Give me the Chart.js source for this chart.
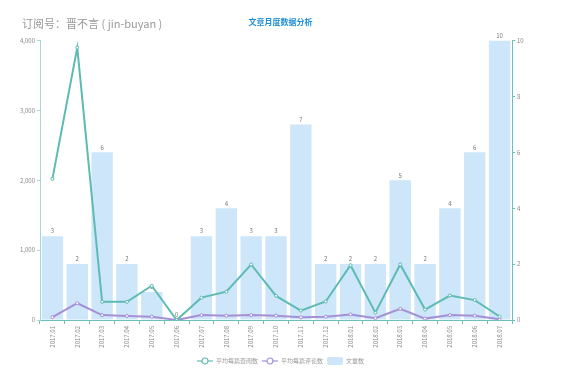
<!DOCTYPE html>
<html><head><meta charset="utf-8">
<script src="https://cdn.jsdelivr.net/npm/chart.js@4/dist/chart.umd.min.js"></script>
<style>html,body{margin:0;padding:0;background:#fff}#w{width:561px;height:385px}</style>
</head><body><div id="w"><canvas id="c"></canvas></div>
<script>
const months = ['2017.01','2017.02','2017.03','2017.04','2017.05','2017.06','2017.07','2017.08','2017.09','2017.10','2017.11','2017.12','2018.01','2018.02','2018.03','2018.04','2018.05','2018.06','2018.07'];
const avgReads = [2020,3900,260,260,490,0,320,405,795,345,135,265,785,105,795,150,350,285,50];
const avgComments = [40,240,70,58,48,0,70,62,70,62,38,48,80,25,160,20,70,62,10];
const articleCount = [3,2,6,2,1,0,3,4,3,3,7,2,2,2,5,2,4,6,10];
const leftTicks = [0,1000,2000,3000,4000];
const rightTicks = [0,2,4,6,8,10];
const titleText = '文章月度数据分析';
const subText = '订阅号：晋不言 ( jin-buyan )';
const FONT = "'Noto Sans CJK SC','Noto Sans',sans-serif";

function lineIcon(color){
  const c=document.createElement('canvas'); c.width=16; c.height=8;
  const g=c.getContext('2d');
  g.strokeStyle=color; g.lineWidth=1.2;
  g.beginPath(); g.moveTo(0,4); g.lineTo(16,4); g.stroke();
  g.fillStyle='#fff'; g.beginPath(); g.arc(8,4,3,0,Math.PI*2); g.fill(); g.stroke();
  return c;
}
function rectIcon(color){
  const c=document.createElement('canvas'); c.width=16; c.height=8;
  const g=c.getContext('2d'); g.fillStyle=color;
  g.beginPath(); g.roundRect(0,0,16,8,2); g.fill();
  return c;
}

const barLabels = {
  id:'barLabels',
  afterDatasetDraw(chart,args){
    if(args.index!==2) return;
    const ctx=chart.ctx, meta=args.meta;
    ctx.save();
    ctx.font="6px "+FONT; ctx.fillStyle='#777'; ctx.textAlign='center'; ctx.textBaseline='bottom';
    meta.data.forEach((b,i)=>ctx.fillText(String(articleCount[i]), b.x, b.y-2));
    ctx.restore();
  }
};
const subTitle = {
  id:'subTitle',
  afterDraw(chart){
    const ctx=chart.ctx; ctx.save();
    ctx.font="11px "+FONT; ctx.fillStyle='#999'; ctx.textBaseline='middle'; ctx.textAlign='left';
    ctx.fillText(subText, 22, 24);
    ctx.restore();
  }
};
const icons=[lineIcon('#5dbbb3'), lineIcon('#a58fd6'), rectIcon('#cde6f9')];

new Chart(document.getElementById('c'), {
  data:{
    labels: months,
    datasets:[
      {type:'line', label:'平均每篇查阅数', data:avgReads, yAxisID:'y', borderColor:'#5dbbb3', backgroundColor:'#fff', borderWidth:2, pointRadius:1.5, pointBorderWidth:1, pointStyle:'circle', tension:0, order:1},
      {type:'line', label:'平均每篇评论数', data:avgComments, yAxisID:'y', borderColor:'#a58fd6', backgroundColor:'#fff', borderWidth:2, pointRadius:1.5, pointBorderWidth:1, pointStyle:'circle', tension:0, order:2},
      {type:'bar', label:'文章数', data:articleCount, yAxisID:'y1', backgroundColor:'#cde6f9', borderWidth:0, barPercentage:0.86, categoryPercentage:1, order:3}
    ]
  },
  options:{
    responsive:true, maintainAspectRatio:false, animation:false,
    layout:{padding:{left:0,right:0,top:0,bottom:11}},
    plugins:{
      title:{display:true, text:titleText, color:'#1e8fd6', font:{family:FONT,size:8,weight:'bold'}, padding:{top:17,bottom:14}},
      legend:{position:'bottom', labels:{usePointStyle:true, pointStyleWidth:16, boxHeight:8, font:{family:FONT,size:6}, color:'#999', padding:4,
        generateLabels(chart){
          return chart.data.datasets.map((d,i)=>({text:d.label, pointStyle:icons[i], fontColor:'#999', datasetIndex:i, hidden:false, lineWidth:0, strokeStyle:'rgba(0,0,0,0)', fillStyle:'rgba(0,0,0,0)'}));
        }}},
      tooltip:{enabled:false}
    },
    scales:{
      x:{offset:true, grid:{display:true, drawOnChartArea:false, offset:true, tickLength:4, color:'#6cc0bb'}, border:{color:'#6cc0bb'},
         ticks:{color:'#888', font:{family:FONT,size:6}, maxRotation:90, minRotation:90, padding:2, autoSkip:false},
         afterFit(s){s.height=34;}},
      y:{position:'left', min:0, max:4000, afterBuildTicks(s){s.ticks=leftTicks.map(v=>({value:v}));},
         grid:{display:true, drawOnChartArea:false, tickLength:3, color:'#a8d8d6'}, border:{color:'#a8d8d6'},
         ticks:{color:'#888', font:{family:FONT,size:6}, padding:2, callback:v=>v.toLocaleString('en-US')},
         afterFit(s){s.width=40;}},
      y1:{position:'right', min:0, max:10, afterBuildTicks(s){s.ticks=rightTicks.map(v=>({value:v}));},
         grid:{display:true, drawOnChartArea:false, tickLength:3, color:'#6cc0bb'}, border:{color:'#6cc0bb'},
         ticks:{color:'#888', font:{family:FONT,size:6}, padding:2},
         afterFit(s){s.width=49;}}
    }
  },
  plugins:[barLabels, subTitle]
});
</script></body></html>
